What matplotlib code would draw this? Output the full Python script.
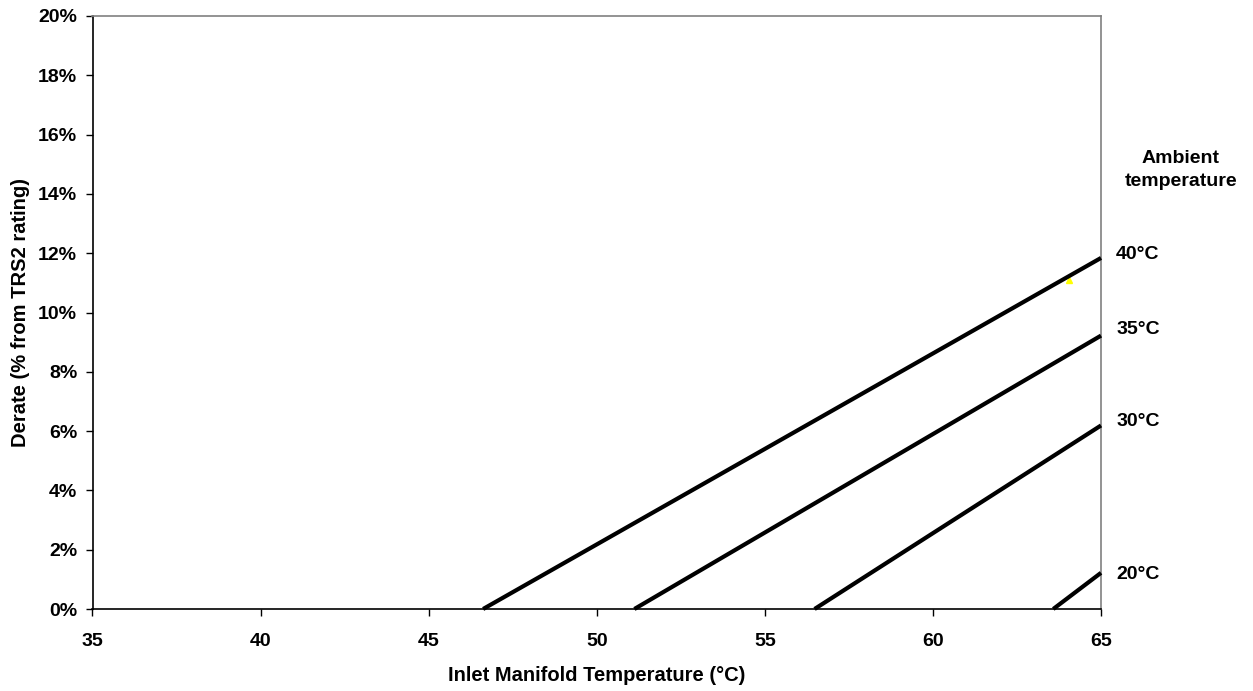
import matplotlib
matplotlib.use("Agg")
import matplotlib.pyplot as plt
from matplotlib.ticker import FuncFormatter

plt.rcParams['font.family'] = ['Liberation Sans', 'DejaVu Sans']

# Data: start (zero-crossing) and end points of each ambient temperature line
series_labels = ["40°C", "35°C", "30°C", "20°C"]
x_start = [46.62, 51.12, 56.48, 63.58]
x_end = [65, 65, 65, 65]
y_start = [0.0, 0.0, 0.0, 0.0]
y_end = [11.84, 9.22, 6.19, 1.22]
label_y = [11.97, 9.41, 6.34, 1.18]
yellow_x = [64.05]
yellow_y = [11.1]

x_ticks = [35, 40, 45, 50, 55, 60, 65]
y_ticks = [0, 2, 4, 6, 8, 10, 12, 14, 16, 18, 20]

fig = plt.figure(figsize=(12.53, 6.91), dpi=100)
ax = fig.add_axes([92.5/1253, 1-609/691, (1101-92.5)/1253, (609-16)/691])

for xs, xe, ys, ye in zip(x_start, x_end, y_start, y_end):
    ax.plot([xs, xe], [ys, ye], color='black', linewidth=3.0, solid_capstyle='butt', clip_on=False, zorder=3)

ax.plot(yellow_x, yellow_y, marker='^', color='#ffff00', markersize=4, linestyle='none', zorder=2)

for lab, ly in zip(series_labels, label_y):
    ax.text(65.45, ly, lab, fontsize=14, fontweight='bold', va='center', ha='left')

ax.text(67.38, 14.8, "Ambient\ntemperature", fontsize=14, fontweight='bold', ha='center', va='center', linespacing=1.5)

ax.set_xlim(35, 65)
ax.set_ylim(0, 20)
ax.set_xticks(x_ticks)
ax.set_yticks(y_ticks)
ax.yaxis.set_major_formatter(FuncFormatter(lambda v, p: f"{int(v)}%"))

for lab in ax.get_xticklabels() + ax.get_yticklabels():
    lab.set_fontweight('bold')
ax.tick_params(axis='both', direction='out', length=5, width=1, labelsize=14, colors='black')
ax.tick_params(axis='x', pad=12.5)
ax.tick_params(axis='y', pad=6)

ax.spines['left'].set_color('black')
ax.spines['bottom'].set_color('black')
ax.spines['top'].set_color('#808080')
ax.spines['right'].set_color('#808080')
for s in ax.spines.values():
    s.set_linewidth(1.2)

ax.set_xlabel("Inlet Manifold Temperature (°C)", fontsize=14.5, fontweight='bold', labelpad=11)
ax.set_ylabel("Derate (% from TRS2 rating)", fontsize=14.5, fontweight='bold', labelpad=6)

fig.savefig("out.png", dpi=100)
